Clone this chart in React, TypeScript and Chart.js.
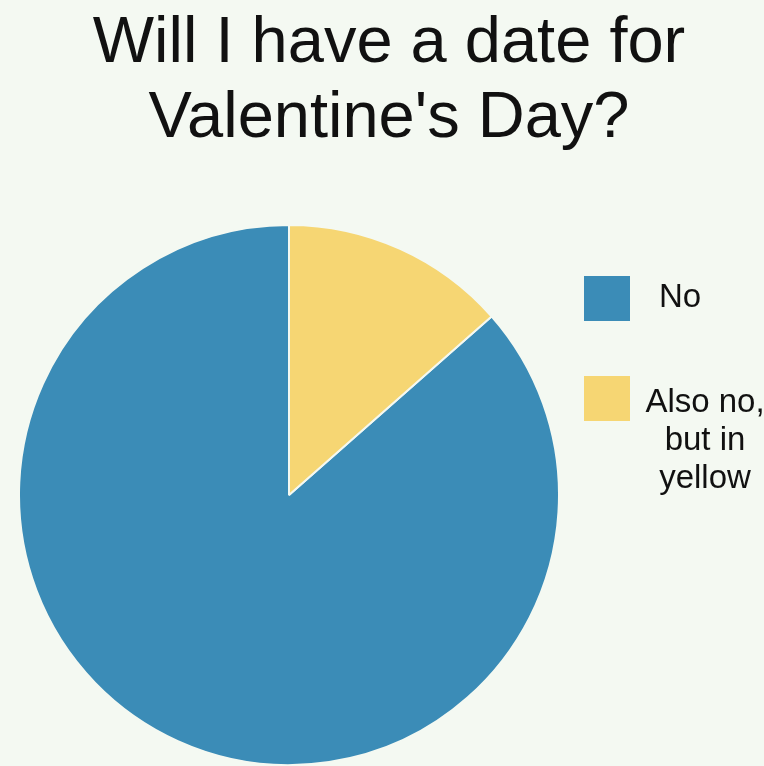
import React, { useEffect, useRef } from "react";
import { Chart, registerables } from "chart.js";

Chart.register(...registerables);

const titleLines = ["Will I have a date for", "Valentine's Day?"];
const categories: (string | string[])[] = ["No", ["Also no,", "but in", "yellow"]];
const values = [86.5, 13.5];
const colors = ["#3b8cb7", "#f6d673"];

const BG = "#f4f9f2";

const overlayPlugin = {
  id: "overlay",
  beforeDraw(chart: any) {
    const { ctx, width, height } = chart;
    ctx.save();
    ctx.fillStyle = BG;
    ctx.fillRect(0, 0, width, height);
    ctx.restore();
  },
  afterDraw(chart: any) {
    const { ctx } = chart;
    ctx.save();
    ctx.fillStyle = "#111";
    ctx.textAlign = "center";
    ctx.textBaseline = "alphabetic";
    ctx.font = "65px 'Liberation Sans', Arial, sans-serif";
    titleLines.forEach((t, i) => ctx.fillText(t, 389, 62 + i * 75));

    const labels = chart.data.labels as (string | string[])[];
    const bgs = chart.data.datasets[0].backgroundColor as string[];
    const boxTops = [276, 376];
    ctx.font = "33px 'Liberation Sans', Arial, sans-serif";
    labels.forEach((lab, i) => {
      const top = boxTops[i];
      ctx.fillStyle = bgs[i];
      ctx.fillRect(584, top, 46, 45);
      ctx.fillStyle = "#111";
      const lines = Array.isArray(lab) ? lab : [lab];
      if (lines.length === 1) {
        ctx.textAlign = "left";
        ctx.fillText(lines[0], 659, top + 31);
      } else {
        ctx.textAlign = "center";
        lines.forEach((l, j) => ctx.fillText(l, 705, top + 36 + j * 38));
      }
    });
    ctx.restore();
  },
};

export default function App() {
  const ref = useRef<HTMLCanvasElement | null>(null);
  useEffect(() => {
    if (!ref.current) return;
    const total = values.reduce((a, b) => a + b, 0);
    const chart = new Chart(ref.current, {
      type: "pie",
      data: {
        labels: categories as any,
        datasets: [
          {
            data: values,
            backgroundColor: colors,
            borderColor: BG,
            borderWidth: 2,
          },
        ],
      },
      options: {
        animation: false,
        responsive: false,
        rotation: (values[1] / total) * 360,
        layout: { padding: { left: 18, top: 224, right: 204, bottom: 0 } },
        plugins: {
          legend: { display: false },
          title: { display: false },
          tooltip: { enabled: false },
        },
      },
      plugins: [overlayPlugin],
    });
    return () => chart.destroy();
  }, []);
  return (
    <div style={{ position: "fixed", left: 0, top: 0, width: 764, height: 766, background: BG }}>
      <canvas ref={ref} width={764} height={766} style={{ width: 764, height: 766 }} />
    </div>
  );
}
